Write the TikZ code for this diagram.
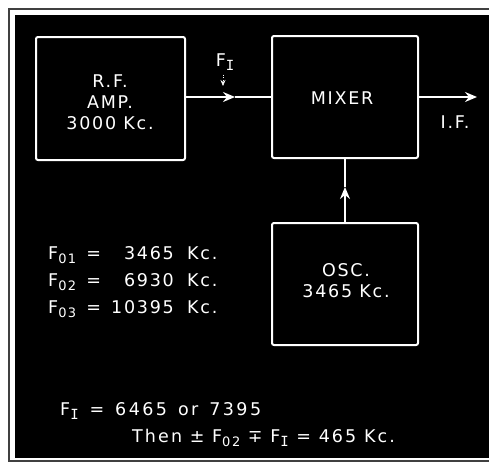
\documentclass[tikz,border=0pt]{standalone}
\usepackage{fontspec}
\setmainfont{DejaVu Sans}
\newfontfamily\serifI{DejaVu Sans Mono}
\usetikzlibrary{arrows.meta}
\newcommand{\subsc}[1]{\raisebox{-0.45ex}{\fontsize{13}{13}\selectfont #1}}
\newcommand{\subI}{\raisebox{-0.45ex}{\fontsize{14}{14}\selectfont\serifI I}}
\begin{document}
\begin{tikzpicture}[x=1pt,y=-1pt,
  blockbox/.style={draw=white, line width=2pt, rounded corners=2pt, inner sep=0pt},
  lbl/.style={text=white, font=\fontsize{17.5}{21}\selectfont\addfontfeature{LetterSpace=10}, align=center, inner sep=0pt},
  conn/.style={draw=white, line width=1.8pt},
  tip/.style={-{Stealth[length=12pt,width=10pt,inset=4pt]}}
]
\useasboundingbox (0,0) rectangle (489,463);
\fill[white] (0,0) rectangle (489,463);
\draw[black!75, line width=1.5pt] (9,9) rectangle (505,461);
\fill[black] (15,15) rectangle (500,458);

% blocks
\node[blockbox, minimum width=149pt, minimum height=123pt] (rf) at (110.5,98.5) {};
\node[blockbox, minimum width=146pt, minimum height=122pt] (mix) at (345,97) {};
\node[blockbox, minimum width=146pt, minimum height=122pt] (osc) at (345,284) {};
\node[lbl] (rftxt) at (110,102) {R.F.\\AMP.\\3000 Kc.};
\node[lbl] (mixtxt) at (342,98) {MIXER};
\node[lbl] (osctxt) at (346,281) {OSC.\\3465 Kc.};

% connectors
\coordinate (fi) at (235,97);
\draw[conn, tip] (rf.east |- fi) -- (fi);
\draw[conn] (fi) -- (mix.west |- fi);
\coordinate (ifend) at (477,97);
\draw[conn, tip] (mix.east |- ifend) -- (ifend);
\coordinate (up) at (345,187);
\draw[conn, tip] (osc.north) -- (up);
\draw[conn] (up) -- (mix.south);

% F_I label with small arrow
\node[lbl] (filbl) at (225,62) {F\subI};
\coordinate (fiarr) at (223,86);
\draw[white, line width=0.6pt, dotted, -{Stealth[length=6pt,width=5pt]}] (filbl.south -| fiarr) ++(0,4) -- (fiarr);

\node[lbl] (iflbl) at (455,122) {I.F.};

% frequency table
\node[lbl, anchor=base west] (f1) at (48,259) {F\subsc{01} \,=};
\node[lbl, anchor=base east] (n1) at (174,259) {3465};
\node[lbl, anchor=base west] (k1) at (187,259) {Kc.};
\node[lbl, anchor=base west] (f2) at (48,286) {F\subsc{02} \,=};
\node[lbl, anchor=base east] (n2) at (174,286) {6930};
\node[lbl, anchor=base west] (k2) at (187,286) {Kc.};
\node[lbl, anchor=base west] (f3) at (48,313) {F\subsc{03} \,=};
\node[lbl, anchor=base east] (n3) at (174,313) {10395};
\node[lbl, anchor=base west] (k3) at (187,313) {Kc.};

% bottom equations
\node[lbl, anchor=base west, font=\fontsize{17.5}{21}\selectfont\addfontfeature{LetterSpace=14}] (eq1) at (60,415) {F\subI{}\, =\, 6465\, or\, 7395};
\node[lbl, anchor=base west, font=\fontsize{17.5}{21}\selectfont\addfontfeature{LetterSpace=12}] (eq2) at (132,442) {Then ± F\subsc{02} ∓ F\subI{} = 465 Kc.};
\end{tikzpicture}
\end{document}
